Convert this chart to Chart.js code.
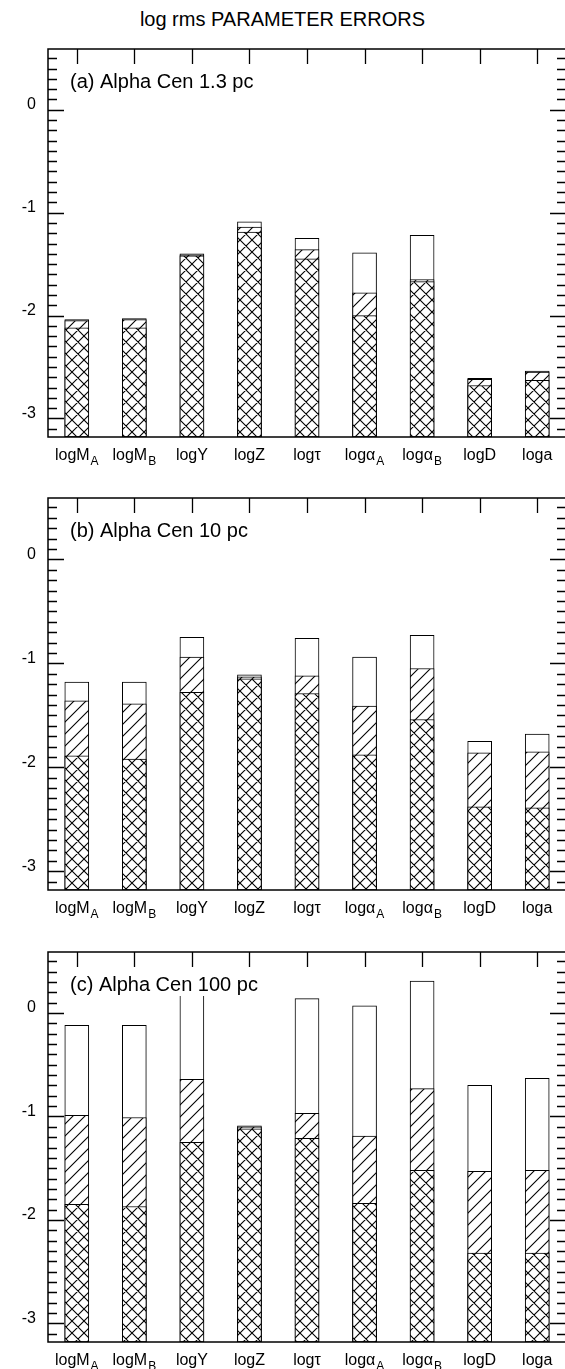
<!DOCTYPE html>
<html>
<head>
<meta charset="utf-8">
<script src="https://cdn.jsdelivr.net/npm/chart.js@4.4.1/dist/chart.umd.min.js"></script>
<style>
  html, body { margin: 0; padding: 0; background: #fff; overflow: hidden; }
  body { width: 565px; height: 1369px; position: relative; }
  #title { position: absolute; left: 0; top: 9px; width: 565px; text-align: center;
           font: 20px "Liberation Sans", Arial, sans-serif; line-height: 20px; color: #000; }
  canvas { position: absolute; left: 0; }
</style>
</head>
<body>
<div id="title">log rms PARAMETER ERRORS</div>
<canvas id="panelA" width="566" height="475" style="top:0px"></canvas>
<canvas id="panelB" width="566" height="450" style="top:475px"></canvas>
<canvas id="panelC" width="566" height="444" style="top:925px"></canvas>
<script>
const params = ['logM', 'logM', 'logY', 'logZ', 'logτ', 'logα', 'logα', 'logD', 'loga'];
const paramSubs = ['A', 'B', '', '', '', 'A', 'B', '', ''];
const yTicks = [-3, -2, -1, 0];

// (a) Alpha Cen 1.3 pc
const openA  = [-2.04, -2.03, -1.40, -1.09, -1.25, -1.39, -1.22, -2.61, -2.54];
const hatchA = [-2.05, -2.04, -1.41, -1.14, -1.36, -1.78, -1.65, -2.62, -2.55];
const crossA = [-2.12, -2.12, -1.42, -1.19, -1.45, -2.00, -1.67, -2.68, -2.63];

// (b) Alpha Cen 10 pc
const openB  = [-1.18, -1.18, -0.75, -1.11, -0.76, -0.94, -0.73, -1.75, -1.68];
const hatchB = [-1.36, -1.39, -0.94, -1.13, -1.12, -1.41, -1.05, -1.86, -1.85];
const crossB = [-1.89, -1.92, -1.28, -1.15, -1.29, -1.88, -1.54, -2.38, -2.39];

// (c) Alpha Cen 100 pc
const openC  = [-0.12, -0.12, 0.30, -1.09, 0.14, 0.07, 0.31, -0.70, -0.63];
const hatchC = [-0.99, -1.01, -0.64, -1.10, -0.97, -1.19, -0.73, -1.53, -1.52];
const crossC = [-1.85, -1.87, -1.25, -1.12, -1.21, -1.84, -1.52, -2.32, -2.32];

const Y_MIN = -3.18, Y_MAX = 0.59;
const FONT = '"Liberation Sans", Arial, sans-serif';

function makePattern(kind) {
  const s = 12;
  const c = document.createElement('canvas');
  c.width = s; c.height = s;
  const g = c.getContext('2d');
  g.fillStyle = '#fff';
  g.fillRect(0, 0, s, s);
  g.strokeStyle = '#000';
  g.lineWidth = 1.1;
  g.beginPath();
  // "/" lines
  g.moveTo(-1, s + 1); g.lineTo(s + 1, -1);
  g.moveTo(-1, 1); g.lineTo(1, -1);
  g.moveTo(s - 1, s + 1); g.lineTo(s + 1, s - 1);
  if (kind === 'cross') {
    g.moveTo(-1, -1); g.lineTo(s + 1, s + 1);
    g.moveTo(s - 1, -1); g.lineTo(s + 1, 1);
    g.moveTo(-1, s - 1); g.lineTo(1, s + 1);
  }
  g.stroke();
  return g.createPattern(c, 'repeat');
}

const framePlugin = {
  id: 'frame',
  afterDatasetsDraw(chart, args, opts) {
    const { ctx, chartArea: a, scales: { x, y } } = chart;
    ctx.save();
    // panel label, white backing hides bars behind it
    ctx.font = '20px ' + FONT;
    ctx.textAlign = 'left';
    ctx.textBaseline = 'alphabetic';
    const tw = ctx.measureText(opts.label).width;
    ctx.fillStyle = '#fff';
    ctx.fillRect(a.left + 20, a.top + 20, tw + 4, 24);
    ctx.fillStyle = '#000';
    ctx.fillText(opts.label, a.left + 22, a.top + 39);

    // box
    ctx.strokeStyle = '#000';
    ctx.lineWidth = 1.5;
    ctx.strokeRect(a.left, a.top, a.right - a.left, a.bottom - a.top);

    // ticks
    ctx.lineWidth = 1.3;
    ctx.beginPath();
    for (let k = Math.ceil(y.min * 10); k <= Math.floor(y.max * 10); k++) {
      const py = Math.round(y.getPixelForValue(k / 10)) + 0.5;
      const len = k % 10 === 0 ? 16 : 9;
      ctx.moveTo(a.left, py); ctx.lineTo(a.left + len, py);
      ctx.moveTo(a.right, py); ctx.lineTo(a.right - len, py);
    }
    params.forEach((_, i) => {
      const px = Math.round(x.getPixelForValue(i)) + 0.5;
      ctx.moveTo(px, a.top); ctx.lineTo(px, a.top + 15);
    });
    ctx.stroke();

    // category labels with subscripts
    const yb = a.bottom + 23;
    params.forEach((p, i) => {
      const sub = paramSubs[i];
      ctx.font = '16px ' + FONT;
      const w1 = ctx.measureText(p).width;
      ctx.font = '12px ' + FONT;
      const w2 = sub ? ctx.measureText(sub).width + 1 : 0;
      const x0 = x.getPixelForValue(i) - (w1 + w2) / 2;
      ctx.font = '16px ' + FONT;
      ctx.fillText(p, x0, yb);
      if (sub) {
        ctx.font = '12px ' + FONT;
        ctx.fillText(sub, x0 + w1 + 1, yb + 5);
      }
    });
    ctx.restore();
  }
};

const crossFill = makePattern('cross');
const hatchFill = makePattern('hatch');

function makePanel(id, label, open, hatch, cross, padTop, padBottom) {
  const bar = (vals, fill) => ({
    data: vals.map(v => [Y_MIN, v]),
    backgroundColor: fill,
    borderColor: '#000',
    borderWidth: 1,
    borderSkipped: false,
    grouped: false,
    barThickness: 24
  });
  return new Chart(document.getElementById(id), {
    type: 'bar',
    data: {
      labels: params,
      // first dataset is drawn on top
      datasets: [bar(cross, crossFill), bar(hatch, hatchFill), bar(open, '#fff')]
    },
    options: {
      responsive: false,
      animation: false,
      layout: { padding: { top: padTop, bottom: padBottom, left: 0, right: 0 } },
      plugins: {
        legend: { display: false },
        tooltip: { enabled: false },
        frame: { label }
      },
      scales: {
        x: { display: false },
        y: {
          min: Y_MIN,
          max: Y_MAX,
          afterBuildTicks: s => { s.ticks = yTicks.map(v => ({ value: v })); },
          afterFit: s => { s.width = 48; },
          grid: { display: false, drawTicks: false },
          border: { display: false },
          ticks: { padding: 12, labelOffset: -5, color: '#000', font: { size: 16, family: FONT } }
        }
      }
    },
    plugins: [framePlugin]
  });
}

makePanel('panelA', '(a) Alpha Cen 1.3 pc', openA, hatchA, crossA, 49, 38);
makePanel('panelB', '(b) Alpha Cen 10 pc', openB, hatchB, crossB, 23, 35);
makePanel('panelC', '(c) Alpha Cen 100 pc', openC, hatchC, crossC, 27, 27);
</script>
</body>
</html>
